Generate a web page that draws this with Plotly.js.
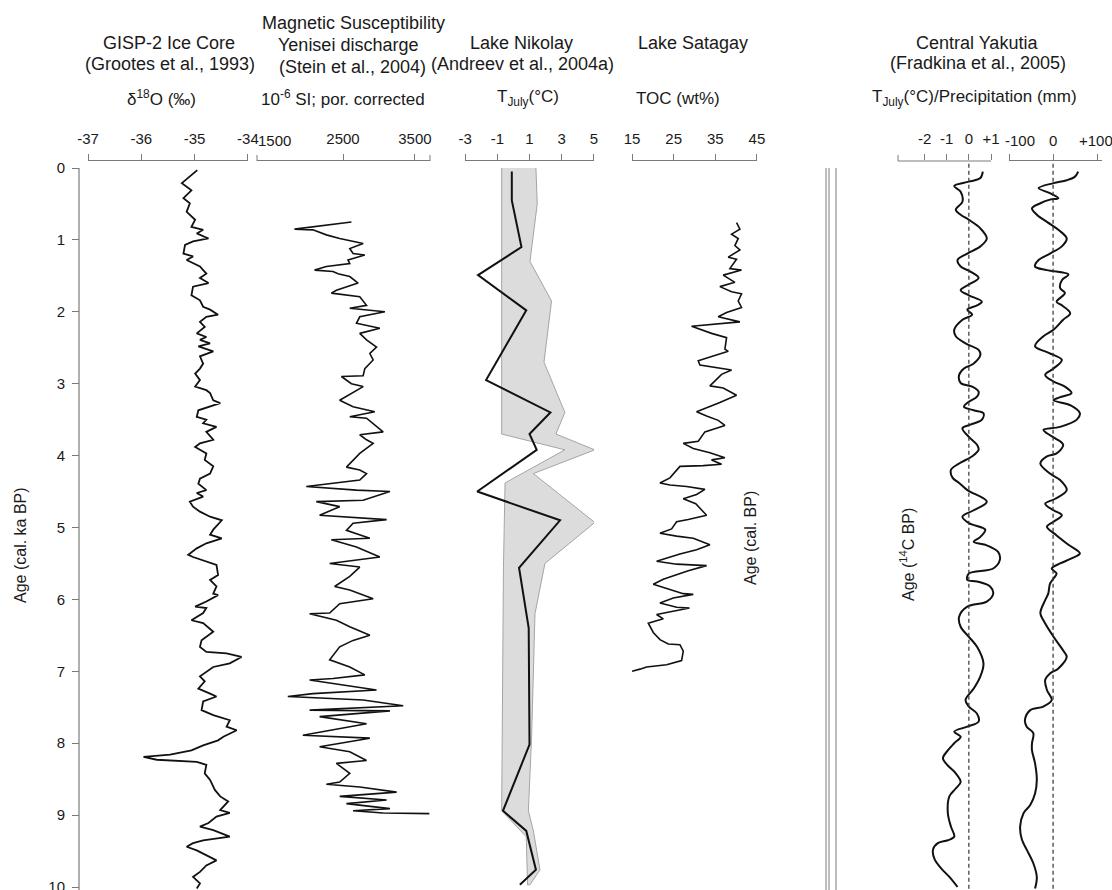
<!DOCTYPE html>
<html><head><meta charset="utf-8">
<script src="https://cdn.plot.ly/plotly-3.0.1.min.js"></script>
<style>html,body{margin:0;padding:0;background:#fff}#chart{width:1112px;height:890px}</style>
</head><body><div id="chart"></div>
<script>
// ---------- DATA ----------
const gispAge = [0.03,0.21,0.31,0.42,0.49,0.61,0.72,0.82,0.86,0.91,0.98,1.02,1.07,1.19,1.23,1.28,1.37,1.47,1.53,1.60,1.65,1.77,1.84,1.93,1.97,2.04,2.07,2.14,2.21,2.30,2.35,2.39,2.44,2.48,2.55,2.62,2.72,2.79,2.86,2.95,3.04,3.09,3.13,3.23,3.27,3.32,3.37,3.46,3.50,3.55,3.60,3.67,3.78,3.83,3.88,3.97,4.06,4.15,4.25,4.32,4.39,4.48,4.52,4.57,4.64,4.71,4.78,4.85,4.90,5.03,5.10,5.15,5.22,5.29,5.38,5.41,5.47,5.52,5.66,5.73,5.82,5.92,5.94,6.03,6.10,6.12,6.19,6.29,6.33,6.45,6.57,6.66,6.73,6.75,6.80,6.89,6.94,7.07,7.14,7.24,7.31,7.35,7.42,7.54,7.61,7.68,7.77,7.82,7.91,7.96,8.03,8.10,8.16,8.19,8.23,8.26,8.30,8.42,8.51,8.65,8.74,8.81,8.93,8.97,9.02,9.11,9.16,9.21,9.30,9.35,9.39,9.44,9.49,9.56,9.63,9.70,9.79,9.86,9.95,10.02];
const gispD18O = [-34.95,-35.24,-35.06,-35.21,-35.09,-35.15,-34.99,-35.06,-34.84,-34.96,-34.74,-35.03,-35.18,-35.21,-35.03,-35.15,-34.90,-34.78,-34.90,-34.74,-35.03,-35.06,-34.90,-34.84,-34.71,-34.56,-34.78,-34.90,-34.81,-34.96,-34.78,-34.90,-34.71,-34.93,-34.65,-34.90,-34.84,-34.90,-34.99,-34.90,-34.99,-34.78,-34.71,-34.65,-34.52,-34.71,-34.93,-34.96,-34.78,-34.84,-34.59,-34.78,-34.65,-34.90,-34.99,-34.78,-34.81,-34.65,-34.71,-34.90,-34.93,-34.78,-34.96,-34.84,-35.09,-35.03,-34.90,-34.71,-34.49,-34.65,-34.71,-34.49,-34.78,-34.96,-35.12,-35.03,-34.78,-34.59,-34.56,-34.71,-34.59,-34.65,-34.56,-34.78,-34.99,-34.78,-34.84,-35.06,-34.84,-34.65,-34.87,-34.90,-34.78,-34.40,-34.12,-34.34,-34.65,-34.90,-34.81,-34.93,-34.71,-34.59,-34.84,-34.87,-34.65,-34.34,-34.40,-34.21,-34.46,-34.56,-34.84,-35.06,-35.46,-35.96,-35.71,-34.96,-34.78,-34.81,-34.71,-34.62,-34.52,-34.37,-34.52,-34.34,-34.59,-34.74,-34.90,-34.65,-34.34,-34.84,-35.03,-35.15,-34.96,-34.78,-34.59,-34.78,-34.90,-35.03,-34.90,-34.96];

const magAge = [0.75,0.85,0.86,0.93,0.98,1.05,1.12,1.19,1.21,1.28,1.33,1.37,1.42,1.44,1.47,1.51,1.60,1.65,1.70,1.74,1.79,1.91,1.95,2.00,2.07,2.16,2.23,2.30,2.39,2.49,2.58,2.67,2.79,2.89,2.90,3.00,3.04,3.23,3.32,3.39,3.46,3.48,3.67,3.71,3.78,3.83,3.90,3.97,4.16,4.20,4.25,4.34,4.43,4.48,4.50,4.62,4.64,4.71,4.83,4.89,4.94,5.04,5.15,5.17,5.27,5.41,5.50,5.55,5.68,5.82,5.87,5.99,6.06,6.19,6.20,6.29,6.38,6.50,6.57,6.66,6.84,6.94,7.05,7.10,7.12,7.26,7.31,7.35,7.40,7.48,7.54,7.55,7.63,7.73,7.89,7.93,8.05,8.12,8.24,8.28,8.42,8.54,8.57,8.61,8.68,8.74,8.79,8.84,8.91,8.94,8.97,8.98];
const magSusc = [2617,1826,2082,2269,2454,2780,2594,2640,2803,2570,2594,2269,2105,2361,2431,2594,2710,2548,2408,2338,2733,2827,2594,3082,2733,2687,3012,2733,2827,2966,2873,2919,2803,2780,2478,2617,2780,2454,2640,2942,2594,2827,3058,2733,2827,2919,2827,2733,2548,2733,2827,2733,1990,2687,3152,2780,2129,2454,2175,3106,2640,2548,2873,2338,2687,3012,2315,2733,2594,2384,2594,2919,2454,2315,2036,2408,2594,2873,2640,2454,2315,2594,2803,2361,2036,2966,2082,1733,2780,3337,2036,3152,2175,2827,1942,2873,2175,2594,2827,2408,2594,2454,2269,2733,3245,2454,3106,2548,3152,2640,3058,3700];

const nikAge = [0.05,0.45,1.1,1.49,1.98,2.95,3.4,3.7,3.92,4.5,4.9,5.56,6.4,8.02,8.94,9.22,9.76,9.97];
const nikTJuly = [-0.1,-0.1,0.5,-2.2,0.8,-1.7,2.3,1.0,1.45,-2.25,2.9,0.35,0.95,1.0,-0.65,0.8,1.4,0.4];
const nikMaxAge = [0,0.5,1.3,1.85,2.7,3.4,3.7,3.92,4.25,4.93,5.5,6.2,7.92,8.94,9.22,9.76,9.97];
const nikMaxT = [1.4,1.48,1.03,2.37,1.9,3.2,2.64,5.06,1.24,5.06,1.96,1.34,1.13,0.93,1.24,1.65,1.03];
const nikMinAge = [0,3.7,3.92,4.38,5.56,8.94,9.3,9.97];
const nikMinT = [-0.73,-0.73,3.2,-0.52,-0.62,-0.73,0.8,0.88];

const satAge = [0.76,0.85,0.92,0.98,1.08,1.14,1.24,1.27,1.40,1.42,1.49,1.59,1.65,1.72,1.75,1.85,1.94,2.01,2.07,2.10,2.14,2.20,2.30,2.36,2.52,2.55,2.68,2.74,2.78,2.81,2.87,3.03,3.06,3.16,3.26,3.39,3.45,3.51,3.58,3.67,3.80,3.83,3.90,3.96,4.03,4.06,4.12,4.14,4.15,4.25,4.31,4.38,4.41,4.43,4.47,4.54,4.60,4.67,4.83,4.89,4.92,5.02,5.08,5.12,5.15,5.24,5.31,5.37,5.47,5.51,5.53,5.60,5.66,5.72,5.79,5.85,5.92,5.93,5.98,6.05,6.11,6.12,6.17,6.21,6.27,6.33,6.46,6.56,6.62,6.63,6.72,6.85,6.91,6.94,6.97,7.0];
const satTOC = [40.1,40.9,38.9,40.5,39.7,40.9,38.1,40.1,38.5,41.3,36.9,39.7,36.1,38.9,41.3,40.5,41.3,37.7,35.7,38.1,40.9,29.3,34.1,37.7,37.3,38.1,30.9,31.3,35.7,38.9,36.5,33.7,36.9,40.1,36.1,30.5,32.9,35.7,37.3,32.5,30.9,27.3,29.7,33.7,37.3,34.1,36.5,32.1,26.5,24.9,24.1,21.7,24.1,28.1,32.5,30.5,27.3,30.3,32.9,28.5,25.7,24.5,21.7,25.7,29.7,33.7,30.5,26.5,20.9,25.7,32.9,28.5,25.3,22.5,20.1,23.3,27.3,29.7,24.9,21.7,25.7,28.8,24.1,20.9,22.5,18.9,20.1,21.7,23.7,26.5,27.3,26.9,23.3,18.5,16.9,15.0];

const yakTAge = [0.05,0.14,0.19,0.25,0.33,0.47,0.58,0.65,0.72,0.84,0.98,1.09,1.19,1.28,1.37,1.44,1.53,1.62,1.70,1.77,1.86,1.91,1.97,2.04,2.11,2.25,2.34,2.44,2.53,2.60,2.72,2.79,2.88,2.99,3.04,3.11,3.18,3.25,3.32,3.37,3.41,3.50,3.57,3.62,3.74,3.85,3.92,4.01,4.11,4.20,4.31,4.38,4.48,4.64,4.76,4.85,4.94,5.03,5.13,5.20,5.24,5.34,5.45,5.57,5.64,5.73,5.75,5.82,5.92,6.03,6.10,6.24,6.38,6.52,6.66,6.89,7.07,7.24,7.40,7.49,7.59,7.70,7.77,7.84,7.91,8.00,8.10,8.21,8.31,8.42,8.54,8.63,8.74,8.97,9.16,9.30,9.35,9.39,9.48,9.62,9.74,9.86,10.0];
const yakTJuly = [0.63,0.52,0.0,-0.66,-0.37,-0.29,-0.59,-0.37,0.0,0.52,0.81,0.52,-0.07,-0.51,-0.37,0.07,0.44,0.0,-0.37,0.0,0.59,0.37,-0.07,0.15,-0.29,-0.66,-0.59,-0.15,0.44,0.52,0.22,-0.22,-0.44,-0.37,0.15,0.44,0.37,0.0,-0.22,0.22,0.66,0.59,0.07,-0.29,0.0,0.37,0.44,0.15,-0.44,-0.81,-0.73,-0.44,-0.07,0.81,0.22,-0.29,0.0,0.74,0.52,0.22,0.74,1.32,1.40,1.10,0.0,-0.07,0.37,0.96,1.10,0.81,-0.07,-0.44,-0.37,0.0,0.37,0.66,0.52,0.22,-0.15,0.0,0.37,0.44,-0.07,-0.66,-0.37,-0.66,-0.95,-1.17,-0.95,-0.59,-0.37,-0.59,-0.88,-0.95,-0.81,-0.66,-0.95,-1.40,-1.62,-1.54,-1.25,-0.88,-0.51];

const yakPAge = [0.05,0.12,0.17,0.21,0.28,0.35,0.42,0.44,0.49,0.56,0.65,0.75,0.86,0.98,1.09,1.19,1.28,1.37,1.42,1.48,1.56,1.67,1.74,1.86,1.91,2.02,2.11,2.25,2.34,2.48,2.57,2.67,2.79,2.88,2.97,3.04,3.13,3.19,3.23,3.30,3.41,3.50,3.60,3.64,3.69,3.76,3.85,3.97,4.01,4.11,4.25,4.34,4.48,4.60,4.67,4.76,4.83,4.92,4.99,5.11,5.24,5.36,5.43,5.50,5.57,5.64,5.71,5.78,5.92,6.01,6.19,6.29,6.52,6.71,6.80,6.96,7.03,7.12,7.26,7.40,7.49,7.54,7.68,7.77,7.86,8.00,8.10,8.28,8.51,8.70,8.86,8.97,9.16,9.34,9.48,9.67,9.86,10.02];
const yakPrecip = [57,50,31,1,-33,-7,12,-7,-29,-48,-37,-14,12,31,20,-7,-33,-41,-14,35,20,16,27,8,20,39,23,1,-22,-41,-10,20,1,-18,1,27,42,15,1,40,61,54,16,-22,-14,5,23,8,-14,-29,-7,16,31,5,-18,1,20,1,-14,8,35,61,42,16,-3,8,1,-7,-11,-18,-29,-22,1,23,31,12,-7,-18,-14,-3,-22,-52,-64,-60,-45,-48,-48,-41,-37,-41,-52,-67,-75,-71,-60,-45,-37,-41];

const ageTicks = [0,1,2,3,4,5,6,7,8,9,10];
const calTickAge = [0,1,2,2.75,3.25,4.5,5.75,6.85,7.95,9.0,9.8];
const calTickText = ['0','1000','2000','2750','3250','4500','5750','6850','7950','9000','9800'];
const c14TickText = ['0','1000','2000','2500','3000','4000','5000','6000','7000','8000','9000'];

// ---------- LAYOUT HELPERS ----------
const W = 1112, H = 890, TOP = 161;
const PXU = 71.9;                // pixels per ka
const Y0 = 168;                  // pixel of age 0
const yRange = [(H - Y0) / PXU, (TOP - Y0) / PXU];
const px = v => v / W;
const py = v => (H - v) / (H - TOP);
const FONT = 'Liberation Sans, Arial, Helvetica, sans-serif';
const TXT = '#1a1a1a', AX = '#7a7a7a';

function xax(d0, d1, range, tickvals, ticktext, extra) {
  return Object.assign({
    domain: [px(d0), px(d1)], range: range, side: 'top', anchor: 'y',
    showgrid: false, zeroline: false, showline: true, linecolor: AX, linewidth: 1,
    ticks: 'outside', ticklen: 6, tickwidth: 1, tickcolor: AX,
    tickmode: 'array', tickvals: tickvals, ticktext: ticktext,
    tickfont: {family: FONT, size: 15, color: TXT}, ticklabelstandoff: 4, fixedrange: true
  }, extra || {});
}

const lineBlack = w => ({color: '#111', width: w});

const traces = [
  {x: gispD18O, y: gispAge, xaxis: 'x', yaxis: 'y', mode: 'lines', line: lineBlack(1.8), hoverinfo: 'skip'},
  {x: magSusc, y: magAge, xaxis: 'x2', yaxis: 'y', mode: 'lines', line: lineBlack(1.6), hoverinfo: 'skip'},
  {x: nikMaxT.concat(nikMinT.slice().reverse()), y: nikMaxAge.concat(nikMinAge.slice().reverse()),
   xaxis: 'x3', yaxis: 'y', mode: 'lines', fill: 'toself', fillcolor: '#dcdcdc',
   line: {color: '#a5a5a5', width: 1}, hoverinfo: 'skip'},
  {x: nikTJuly, y: nikAge, xaxis: 'x3', yaxis: 'y', mode: 'lines', line: lineBlack(2), hoverinfo: 'skip'},
  {x: satTOC, y: satAge, xaxis: 'x4', yaxis: 'y', mode: 'lines', line: lineBlack(1.6), hoverinfo: 'skip'},
  {x: yakTJuly, y: yakTAge, xaxis: 'x5', yaxis: 'y', mode: 'lines', line: {color: '#111', width: 2, shape: 'spline', smoothing: 1}, hoverinfo: 'skip'},
  {x: yakPrecip, y: yakPAge, xaxis: 'x6', yaxis: 'y', mode: 'lines', line: {color: '#111', width: 2, shape: 'spline', smoothing: 1}, hoverinfo: 'skip'}
];

function ann(text, x, y, size, extra) {
  return Object.assign({text: text, x: px(x), y: py(y), xref: 'paper', yref: 'paper',
    xanchor: 'center', yanchor: 'middle', showarrow: false,
    font: {family: FONT, size: size, color: TXT}}, extra || {});
}

const annotations = [
  ann('Magnetic Susceptibility', 353, 23, 18),
  ann('GISP-2 Ice Core', 169, 43, 18),
  ann('Yenisei discharge', 348, 45, 18),
  ann('Lake Nikolay', 521, 43, 18),
  ann('Lake Satagay', 693, 43, 18),
  ann('Central Yakutia', 977, 43, 18),
  ann('(Grootes et al., 1993)', 170, 64, 18),
  ann('(Stein et al., 2004)', 352, 67, 18),
  ann('(Andreev et al., 2004a)', 522, 64, 18),
  ann('(Fradkina et al., 2005)', 978, 63, 18),
  ann('δ<sup>18</sup>O (‰)', 161, 98, 17),
  ann('10<sup>-6</sup> SI; por. corrected', 343, 98, 17),
  ann('T<sub>July</sub>(°C)', 528, 98, 17),
  ann('TOC (wt%)', 678, 98, 17),
  ann('T<sub>July</sub>(°C)/Precipitation (mm)', 974, 98, 17),
  ann('1500', 274, 140, 15),
  ann('-100', 1020, 140, 15),
  ann('0', 1053, 140, 15),
  ann('+100', 1096, 140, 15),
  ann('Age (cal. ka BP)', 20, 545, 16, {textangle: -90}),
  ann('Age (cal. BP)', 750, 538, 16, {textangle: -90}),
  ann('Age (<sup>14</sup>C BP)', 907, 555, 16, {textangle: -90})
];

const vline = (x, w) => ({type: 'line', xref: 'paper', yref: 'y', x0: px(x), x1: px(x), y0: 0, y1: yRange[0], line: {color: AX, width: w || 1}});
const endTick = x => ({type: 'line', xref: 'paper', yref: 'paper', x0: px(x), x1: px(x), y0: 1, y1: py(155), line: {color: AX, width: 1}});
const shapes = [
  vline(79, 1.2), vline(826), vline(829), vline(836),
  endTick(257), endTick(430), endTick(898),
  {type: 'line', xref: 'paper', yref: 'paper', x0: px(898), x1: px(991), y0: 1, y1: 1, line: {color: AX, width: 1}},
  {type: 'line', xref: 'x5', yref: 'y', x0: 0, x1: 0, y0: -0.06, y1: yRange[0], line: {color: '#333', width: 1.2, dash: '4px,3px'}},
  {type: 'line', xref: 'x6', yref: 'y', x0: 0, x1: 0, y0: -0.06, y1: yRange[0], line: {color: '#333', width: 1.2, dash: '4px,3px'}}
];

const yCommon = {range: yRange, showgrid: false, zeroline: false, showline: false, fixedrange: true,
  ticks: 'outside', tickcolor: AX, tickwidth: 1, tickmode: 'array', ticklabeloverflow: 'allow',
  tickfont: {family: FONT, size: 15, color: TXT}};

// T axis: 22.14 px per degC, domain widened to the right so the curve is not clipped
const tPx = 93 / 4.2;
const layout = {
  width: W, height: H, margin: {l: 0, r: 0, t: TOP, b: 0, pad: 0},
  paper_bgcolor: '#fff', plot_bgcolor: 'rgba(0,0,0,0)', showlegend: false,
  font: {family: FONT, color: TXT},
  xaxis: xax(88, 248, [-37.002, -33.998], [-37, -36, -35, -34], ['-37', '-36', '-35', '-34']),
  xaxis2: xax(257, 430, [1305, 3709], [2500, 3500], ['2500', '3500']),
  xaxis3: xax(465, 594, [-3.01, 5.01], [-3, -1, 1, 3, 5], ['-3', '-1', '1', '3', '5']),
  xaxis4: xax(632, 757, [14.99, 45.01], [15, 25, 35, 45], ['15', '25', '35', '45']),
  xaxis5: xax(898, 1004, [-3.2, 1 + 13 / tPx], [-2, -1, 0, 1], ['-2', '-1', '0', '+1'], {showline: false}),
  xaxis6: xax(1009, 1102, [-100.3, 111.3], [-100, 0, 100], ['-100', '0', '+100'], {showticklabels: false}),
  yaxis: Object.assign({}, yCommon, {anchor: 'free', position: px(79), side: 'left',
    tickvals: ageTicks, ticktext: ageTicks.map(String), ticklen: 7, ticklabelstandoff: 4}),
  yaxis2: Object.assign({}, yCommon, {overlaying: 'y', anchor: 'free', position: px(826), side: 'left',
    tickvals: calTickAge, ticktext: calTickText, ticklen: 6, ticklabelstandoff: 4}),
  yaxis3: Object.assign({}, yCommon, {overlaying: 'y', anchor: 'free', position: px(836), side: 'right',
    tickvals: calTickAge, ticktext: c14TickText, ticklen: 6, ticklabelstandoff: 5}),
  annotations: annotations, shapes: shapes
};

Plotly.newPlot('chart', traces, layout, {displayModeBar: false, staticPlot: true});
</script></body></html>
